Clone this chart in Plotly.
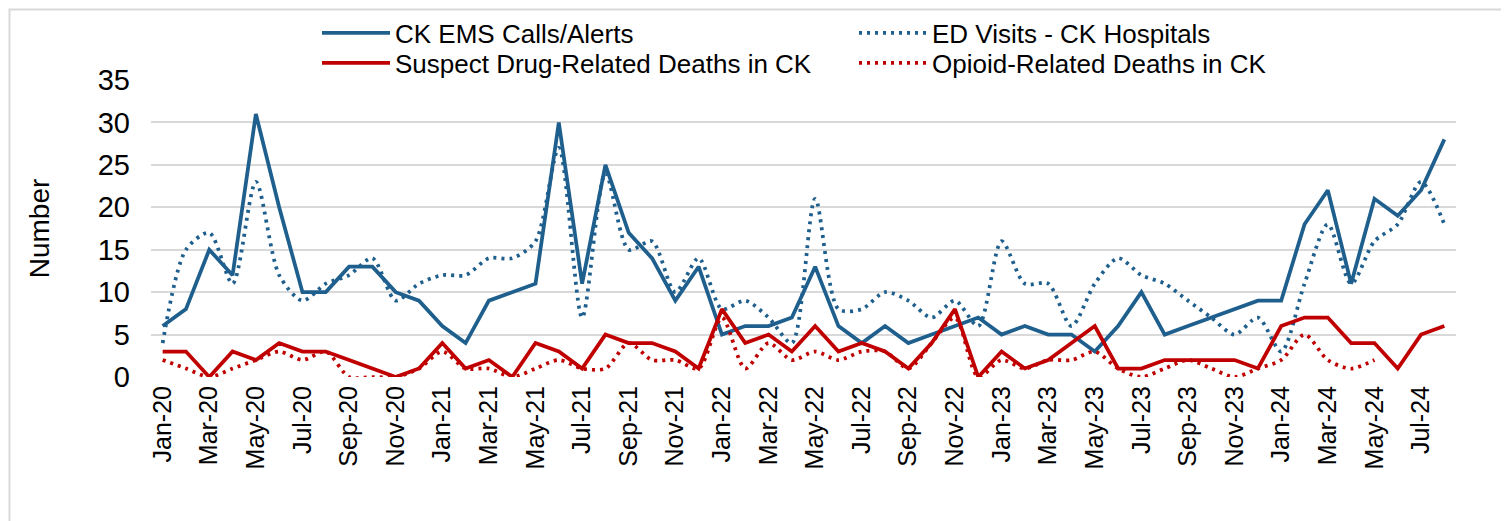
import plotly.graph_objects as go

months = []
for yr in range(20, 25):
    for m in ["Jan", "Feb", "Mar", "Apr", "May", "Jun", "Jul", "Aug", "Sep", "Oct", "Nov", "Dec"]:
        months.append(f"{m}-{yr}")
months = months[:56]  # Jan-20 .. Aug-24

ems_calls = [6, 8, 15, 12, 31, 20, 10, 10, 13, 13, 10, 9,
             6, 4, 9, 10, 11, 30, 11, 25, 17, 14, 9, 13,
             5, 6, 6, 7, 13, 6, 4, 6, 4, 5, 6, 7,
             5, 6, 5, 5, 3, 6, 10, 5, 6, 7, 8, 9,
             9, 18, 22, 11, 21, 19, 22, 28]
ed_visits = [4, 15, 17, 11, 23, 12, 9, 11, 12, 14, 9, 11,
             12, 12, 14, 14, 16, 27, 7, 24, 15, 16, 10, 14,
             8, 9, 7, 4, 21, 8, 8, 10, 9, 7, 9, 6,
             16, 11, 11, 6, 11, 14, 12, 11, 9, 7, 5, 7,
             3, 11, 18, 11, 16, 18, 23, 18]
suspect_deaths = [3, 3, 0, 3, 2, 4, 3, 3, 2, 1, 0, 1,
                  4, 1, 2, 0, 4, 3, 1, 5, 4, 4, 3, 1,
                  8, 4, 5, 3, 6, 3, 4, 3, 1, 4, 8, 0,
                  3, 1, 2, 4, 6, 1, 1, 2, 2, 2, 2, 1,
                  6, 7, 7, 4, 4, 1, 5, 6]
opioid_deaths = [2, 1, 0, 1, 2, 3, 2, 3, 0, 0, 0, 1,
                 3, 1, 1, 0, 1, 2, 1, 1, 4, 2, 2, 1,
                 7, 1, 4, 2, 3, 2, 3, 3, 1, 4, 7, 0,
                 2, 1, 2, 2, 3, 1, 0, 1, 2, 1, 0, 1,
                 2, 5, 2, 1, 2, None, None, None]

tick_labels = months[::2]

BLUE = "#1F5F8D"
RED = "#C00000"
GRID = "#D9D9D9"
FONT = "Liberation Sans"

# page has an 8px body margin; figure is sized to fit the 1509x521 window
OFF = 8
W, H = 1509 - OFF, 521 - OFF
L, R, T, B = 151 - OFF, 53, 80 - OFF, 144
pw, ph = W - L - R, H - T - B

def px_x(p):  # page pixel -> paper x
    return (p - OFF - L) / pw

def px_y(p):  # page pixel -> paper y
    return (H - B - (p - OFF)) / ph

fig = go.Figure()
fig.add_trace(go.Scatter(x=months, y=ems_calls, mode="lines", name="CK EMS Calls/Alerts",
                         line=dict(color=BLUE, width=3.75), legend="legend"))
fig.add_trace(go.Scatter(x=months, y=ed_visits, mode="lines", name="ED Visits - CK Hospitals",
                         line=dict(color=BLUE, width=3.75, dash="3px,5px", shape="spline", smoothing=0.8),
                         legend="legend"))
fig.add_trace(go.Scatter(x=months, y=suspect_deaths, mode="lines", name="Suspect Drug-Related Deaths in CK",
                         line=dict(color=RED, width=3.75), legend="legend2"))
fig.add_trace(go.Scatter(x=months, y=opioid_deaths, mode="lines", name="Opioid-Related Deaths in CK",
                         line=dict(color=RED, width=3.75, dash="3px,5px", shape="spline", smoothing=0.8),
                         connectgaps=False, legend="legend2"))

# chart-area border (light grey frame)
fig.add_shape(type="rect", xref="paper", yref="paper",
              x0=px_x(OFF + 1.5), x1=px_x(1502), y0=px_y(545), y1=px_y(OFF + 1.5),
              line=dict(color=GRID, width=2), fillcolor="rgba(0,0,0,0)", layer="below")

legend_common = dict(orientation="h", xanchor="left", yanchor="middle",
                     entrywidth=454, entrywidthmode="pixels", itemwidth=68,
                     font=dict(family=FONT, size=26, color="#000000"),
                     bgcolor="rgba(0,0,0,0)", traceorder="normal")

fig.update_layout(
    width=W, height=H,
    margin=dict(l=L, r=R, t=T, b=B, autoexpand=False),
    paper_bgcolor="white", plot_bgcolor="white",
    font=dict(family=FONT, color="#000000"),
    showlegend=True,
    legend=dict(x=px_x(317), y=px_y(33), **legend_common),
    legend2=dict(x=px_x(317), y=px_y(63), **legend_common),
    xaxis=dict(type="category", categoryorder="array", categoryarray=months,
               tickmode="array", tickvals=tick_labels, ticktext=tick_labels,
               tickangle=-90, tickfont=dict(family=FONT, size=25, color="#000000"),
               ticklabelstandoff=3,
               showgrid=False, showline=False, ticks="", zeroline=False,
               range=[-0.5, len(months) - 0.5]),
    yaxis=dict(range=[0, 35], dtick=5, tick0=0, showgrid=True, gridcolor=GRID, gridwidth=2,
               zeroline=False, showline=False, ticks="",
               tickfont=dict(family=FONT, size=29, color="#000000"),
               ticklabelstandoff=20,
               title=dict(text="Number", font=dict(family=FONT, size=28, color="#000000"), standoff=39)),
)

fig.write_html("out.html")
